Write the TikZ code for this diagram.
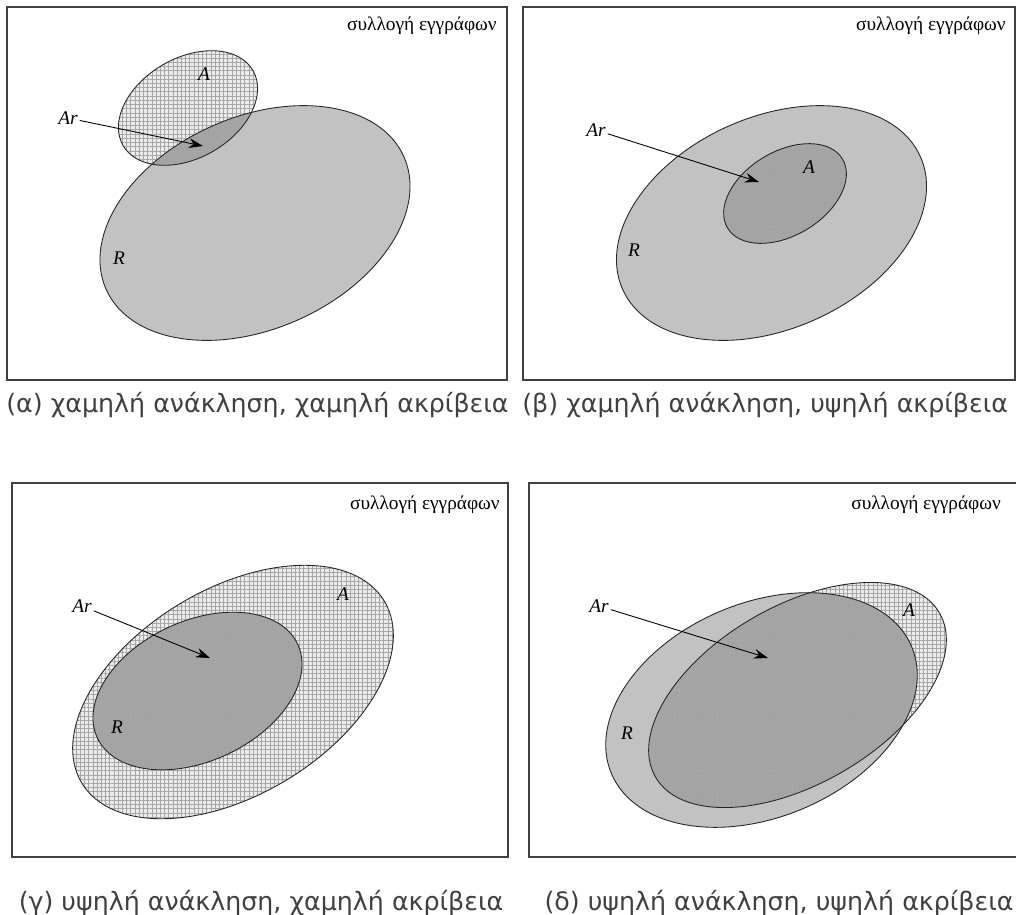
\documentclass[tikz,border=0pt]{standalone}
\usepackage{fontspec}
\setmainfont{Liberation Serif}
\newfontfamily\capfont{DejaVu Sans}
\usetikzlibrary{arrows.meta, patterns.meta}

\begin{document}
\begin{tikzpicture}[x=0.02cm, y=-0.02cm,
  frame/.style={draw=black!75, line width=0.8pt},
  setR/.style={fill=black!24},
  setA/.style={fill=black!8},
  both/.style={fill=black!36},
  checked/.style={pattern={Hatch[distance=2.4pt, line width=0.3pt]}, pattern color=black!35},
  rim/.style={draw=black!85, line width=0.5pt},
  lbl/.style={font=\itshape\fontsize{11}{13}\selectfont, inner sep=1pt},
  corner/.style={font=\fontsize{11}{13}\selectfont, inner sep=0pt},
  caption/.style={font=\capfont\fontsize{14.4}{17}\selectfont, text=black!75, inner sep=0pt},
  pointer/.style={-{Stealth[length=8pt, width=5.5pt]}, line width=0.5pt}]
  \path[use as bounding box, clip] (0,0) rectangle (1016,914);

  % (a) low recall, low precision
  \draw[frame] (7,7) rectangle (507,380);
  \fill[setR, rotate around={24:(255,223)}] (255,223) ellipse [x radius=163, y radius=106];
  \fill[setA, rotate around={30:(188,108)}] (188,108) ellipse [x radius=75, y radius=50];
  \begin{scope}
    \clip[rotate around={30:(188,108)}] (188,108) ellipse [x radius=75, y radius=50];
    \fill[both, rotate around={24:(255,223)}] (255,223) ellipse [x radius=163, y radius=106];
  \end{scope}
  \fill[checked, rotate around={30:(188,108)}] (188,108) ellipse [x radius=75, y radius=50];
  \draw[rim, rotate around={24:(255,223)}] (255,223) ellipse [x radius=163, y radius=106];
  \draw[rim, rotate around={30:(188,108)}] (188,108) ellipse [x radius=75, y radius=50];
  \node[corner, anchor=east] (coll1) at (497,26) {συλλογή εγγράφων};
  \node[lbl] (a1) at (204,74) {A};
  \node[lbl] (r1) at (119,258) {R};
  \node[lbl] (ar1) at (68,118) {Ar};
  \coordinate (tip1) at (203,146);
  \draw[pointer] (ar1) -- (tip1);
  \node[caption, anchor=west] (cap1) at (6,405) {(α) χαμηλή ανάκληση, χαμηλή ακρίβεια};

  % (b) low recall, high precision
  \draw[frame] (523,7) rectangle (1015,380);
  \fill[setR, rotate around={24:(771.5,223)}] (771.5,223) ellipse [x radius=163, y radius=106];
  \fill[both, rotate around={31:(785,193.5)}] (785,193.5) ellipse [x radius=67, y radius=42];
  \fill[checked, rotate around={31:(785,193.5)}] (785,193.5) ellipse [x radius=67, y radius=42];
  \draw[rim, rotate around={24:(771.5,223)}] (771.5,223) ellipse [x radius=163, y radius=106];
  \draw[rim, rotate around={31:(785,193.5)}] (785,193.5) ellipse [x radius=67, y radius=42];
  \node[corner, anchor=east] (coll2) at (1006,26) {συλλογή εγγράφων};
  \node[lbl] (a2) at (809,167) {A};
  \node[lbl] (r2) at (634,250) {R};
  \node[lbl] (ar2) at (596,130) {Ar};
  \coordinate (tip2) at (759,182);
  \draw[pointer] (ar2) -- (tip2);
  \node[caption, anchor=west] (cap2) at (522,405) {(β) χαμηλή ανάκληση, υψηλή ακρίβεια};

  % (c) high recall, low precision
  \draw[frame] (12,483) rectangle (508,857);
  \fill[setA, rotate around={31:(233,692)}] (233,692) ellipse [x radius=176.5, y radius=103];
  \fill[both, rotate around={25:(197.5,691)}] (197.5,691) ellipse [x radius=110.6, y radius=70];
  \fill[checked, rotate around={31:(233,692)}] (233,692) ellipse [x radius=176.5, y radius=103];
  \draw[rim, rotate around={31:(233,692)}] (233,692) ellipse [x radius=176.5, y radius=103];
  \draw[rim, rotate around={25:(197.5,691)}] (197.5,691) ellipse [x radius=110.6, y radius=70];
  \node[corner, anchor=east] (coll3) at (500,505) {συλλογή εγγράφων};
  \node[lbl] (a3) at (343,594) {A};
  \node[lbl] (r3) at (117,727) {R};
  \node[lbl] (ar3) at (82,606) {Ar};
  \coordinate (tip3) at (210,658);
  \draw[pointer] (ar3) -- (tip3);
  \node[caption] (cap3) at (261,903) {(γ) υψηλή ανάκληση, χαμηλή ακρίβεια};

  % (d) high recall, high precision
  \draw[frame] (529,483) rectangle (1030,857);
  \fill[setR, rotate around={23:(761.5,710)}] (761.5,710) ellipse [x radius=163, y radius=107];
  \fill[setA, rotate around={30:(797.5,695)}] (797.5,695) ellipse [x radius=164, y radius=89];
  \begin{scope}
    \clip[rotate around={30:(797.5,695)}] (797.5,695) ellipse [x radius=164, y radius=89];
    \fill[both, rotate around={23:(761.5,710)}] (761.5,710) ellipse [x radius=163, y radius=107];
  \end{scope}
  \fill[checked, rotate around={30:(797.5,695)}] (797.5,695) ellipse [x radius=164, y radius=89];
  \draw[rim, rotate around={23:(761.5,710)}] (761.5,710) ellipse [x radius=163, y radius=107];
  \draw[rim, rotate around={30:(797.5,695)}] (797.5,695) ellipse [x radius=164, y radius=89];
  \node[corner, anchor=west] (coll4) at (851,505) {συλλογή εγγράφων};
  \node[lbl] (a4) at (909,610) {A};
  \node[lbl] (r4) at (627,733) {R};
  \node[lbl] (ar4) at (599,606) {Ar};
  \coordinate (tip4) at (768,658);
  \draw[pointer] (ar4) -- (tip4);
  \node[caption] (cap4) at (779,903) {(δ) υψηλή ανάκληση, υψηλή ακρίβεια};
\end{tikzpicture}
\end{document}
